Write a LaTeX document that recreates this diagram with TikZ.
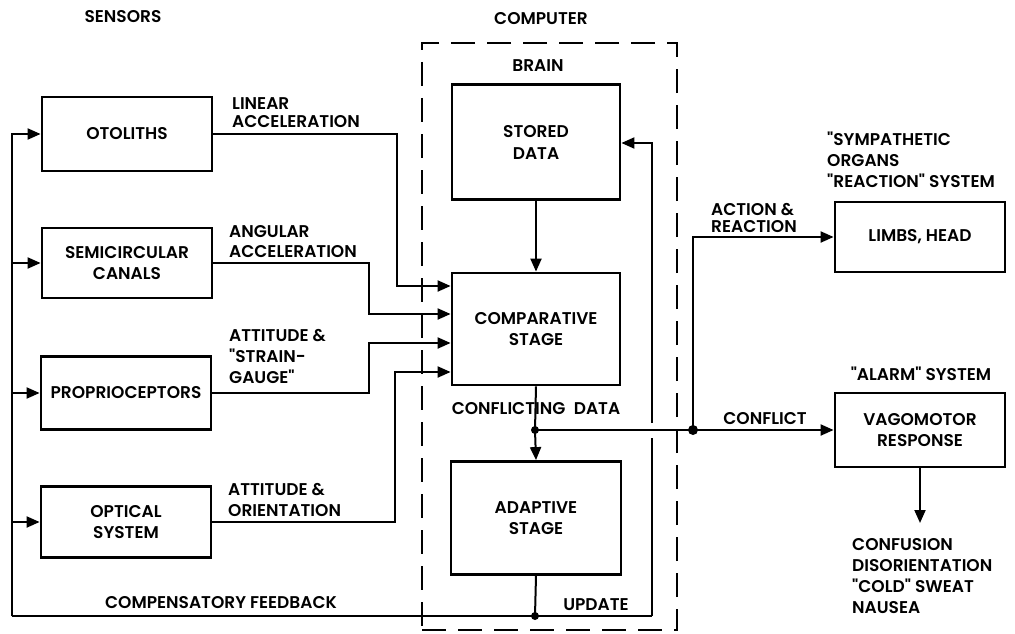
\documentclass[tikz,border=0pt]{standalone}
\usepackage{fontspec}
\setmainfont{Poppins}[Ligatures=TeXOff, BoldFont={Poppins SemiBold}]
\usetikzlibrary{arrows.meta}
\newcommand\dgfont{\fontsize{17}{21}\selectfont\bfseries}
\begin{document}
\begin{tikzpicture}[x=1pt,y=-1pt,
  box/.style={draw, line width=2.8pt, minimum width=170pt, align=center, font=\dgfont, inner sep=0pt},
  lbl/.style={align=left, font=\dgfont, inner sep=0pt, anchor=north west},
  txt/.style={font=\dgfont, inner sep=0pt},
  conn/.style={line width=2pt},
  arr/.style={conn, -{Triangle[length=13pt,width=11pt]}},
  dot/.style={circle, fill, inner sep=0pt, minimum size=9pt}
]
\useasboundingbox (0,0) rectangle (1015,634);

% computer (dashed) frame
\node[draw, line width=2.5pt, dash pattern=on 24pt off 12pt, minimum width=255pt, minimum height=587pt, inner sep=0pt] (computer) at (549.5,336.5) {};

% titles
\node[txt] (sensors) at (123,17) {SENSORS};
\node[txt] (comptitle) at (541,19) {COMPUTER};
\node[txt] (brain) at (538,66) {BRAIN};

% sensor boxes
\node[box, minimum height=74pt] (oto) at (127,134) {OTOLITHS};
\node[box, minimum height=70pt] (semi) at (127,263) {SEMICIRCULAR\\CANALS};
\node[box, minimum height=73pt] (prop) at (126,393) {PROPRIOCEPTORS};
\node[box, minimum height=71pt] (opt) at (126,522) {OPTICAL\\SYSTEM};

% brain boxes
\node[box, minimum width=168pt, minimum height=115pt] (stored) at (536,142) {STORED\\[1pt]DATA};
\node[box, minimum width=168pt, minimum height=112pt] (comp) at (536,329) {COMPARATIVE\\STAGE};
\node[box, minimum width=170pt, minimum height=113pt] (adapt) at (536,518) {ADAPTIVE\\STAGE};

% output boxes
\node[box, minimum height=70pt] (limbs) at (920,237) {LIMBS, HEAD};
\node[box, minimum height=74pt] (vago) at (920,430) {VAGOMOTOR\\RESPONSE};

% labels
\node[lbl] (llin) at (232,97) {LINEAR\\[-3pt]ACCELERATION};
\node[lbl] (lang) at (229,225) {ANGULAR\\[-1pt]ACCELERATION};
\node[lbl] (latt) at (229,329) {ATTITUDE \&\\"STRAIN-\\GAUGE"};
\node[lbl] (lori) at (228,483) {ATTITUDE \&\\ORIENTATION};
\node[txt] (lfb) at (221,603) {COMPENSATORY FEEDBACK};
\node[txt] (lconf) at (536,409) {CONFLICTING\hspace{0.5em}DATA};
\node[txt] (lupd) at (596,605) {UPDATE};
\node[lbl] (lact) at (711,203) {ACTION \&\\[-4pt]REACTION};
\node[lbl] (lsym) at (827,132) {"SYMPATHETIC\\ORGANS\\"REACTION" SYSTEM};
\node[txt] (lalarm) at (921,374) {"ALARM" SYSTEM};
\node[txt] (lconflict) at (765,419) {CONFLICT};
\node[lbl] (lsymp) at (852,538) {CONFUSION\\DISORIENTATION\\"COLD" SWEAT\\NAUSEA};

% junctions
\coordinate (fbL) at (12,616);
\coordinate (fbR) at (652,616);
\node[dot, minimum size=8pt] (upd) at (535,616) {};
\node[dot, minimum size=8pt] (c1) at (535,430) {};
\node[dot, minimum size=10pt] (c2) at (693,430) {};
\coordinate (symp) at (920,523);

% sensor inputs to comparative stage
\draw[arr] (oto.east) -| (397,286) -- ([yshift=43pt]comp.west);
\draw[arr] (semi.east) -| (369,314) -- ([yshift=15pt]comp.west);
\draw[arr] (prop.east) -| (369,343) -- ([yshift=-14pt]comp.west);
\draw[arr] (opt.east) -| (395,372) -- ([yshift=-43pt]comp.west);

% stored -> comparative
\draw[arr] (stored.south) -- (comp.north);

% comparative -> adaptive
\draw[conn] (comp.south) -- (c1.center);
\draw[arr] (c1.center) -- (adapt.north);

% conflict line
\draw[conn] (c1.center) -- (c2.center);
\draw[arr] (c2.center) -- (vago.west);
\draw[arr] (c2.center) |- (limbs.west);
\draw[arr] (vago.south) -- (symp);

% update / compensatory feedback
\draw[conn] (adapt.south) -- (upd.center);
\draw[conn] (fbR) -- (fbL);
\draw[conn] (fbR) -- (652,438);
\draw[arr] (652,423) |- ([yshift=-1pt]stored.east);
\draw[arr] (fbL) |- (oto.west);
\draw[arr] (fbL) |- (semi.west);
\draw[arr] (fbL) |- (prop.west);
\draw[arr] (fbL) |- (opt.west);
\end{tikzpicture}
\end{document}
